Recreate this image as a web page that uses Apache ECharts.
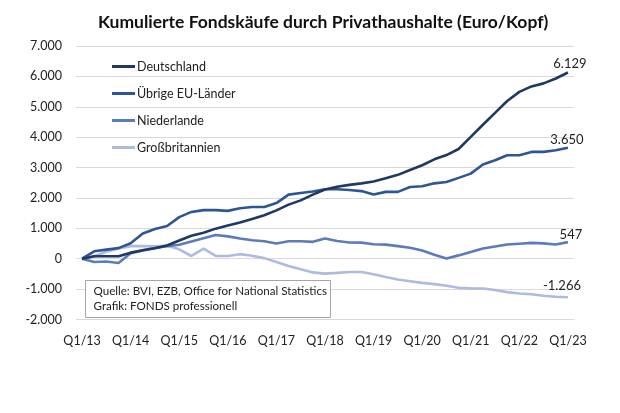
<!DOCTYPE html>
<html>
<head>
<meta charset="utf-8">
<script src="https://cdn.jsdelivr.net/npm/echarts@6/dist/echarts.min.js"></script>
<style>
html,body{margin:0;padding:0;background:#fff;}
#chart{width:620px;height:413px;}
</style>
</head>
<body>
<div id="chart"></div>
<script>
var quarters = [
  "Q1/13","Q2/13","Q3/13","Q4/13",
  "Q1/14","Q2/14","Q3/14","Q4/14",
  "Q1/15","Q2/15","Q3/15","Q4/15",
  "Q1/16","Q2/16","Q3/16","Q4/16",
  "Q1/17","Q2/17","Q3/17","Q4/17",
  "Q1/18","Q2/18","Q3/18","Q4/18",
  "Q1/19","Q2/19","Q3/19","Q4/19",
  "Q1/20","Q2/20","Q3/20","Q4/20",
  "Q1/21","Q2/21","Q3/21","Q4/21",
  "Q1/22","Q2/22","Q3/22","Q4/22",
  "Q1/23"
];
var seriesNames = ["Deutschland", "Übrige EU-Länder", "Niederlande", "Großbritannien"];
var deutschland = [0,80,80,80,200,280,345,435,600,755,855,990,1090,1190,1310,1430,1590,1780,1920,2110,2280,2370,2430,2480,2540,2650,2760,2920,3075,3270,3410,3610,4010,4410,4800,5190,5490,5670,5770,5930,6129];
var uebrigeEU = [0,245,300,350,510,830,980,1075,1370,1540,1600,1600,1575,1660,1700,1700,1830,2110,2165,2210,2285,2285,2260,2225,2110,2200,2200,2360,2385,2480,2525,2660,2800,3100,3240,3405,3405,3515,3515,3570,3650];
var niederlande = [0,-110,-90,-140,180,275,355,415,460,565,670,780,735,665,610,575,500,575,575,555,665,585,535,530,475,465,415,360,270,130,5,110,225,335,405,470,495,520,505,470,547];
var grossbritannien = [0,80,230,340,415,415,405,430,310,90,330,90,90,150,100,20,-110,-240,-350,-450,-490,-465,-435,-435,-510,-600,-685,-740,-795,-835,-890,-955,-975,-980,-1030,-1100,-1145,-1170,-1220,-1250,-1266];
var yTicks = {min: -2000, max: 7000, interval: 1000};
var sourceLines = ["Quelle: BVI, EZB, Office for National Statistics", "Grafik: FONDS professionell"];
var titleText = "Kumulierte Fondskäufe durch Privathaushalte (Euro/Kopf)";

var colors = ["#1f3864", "#2f5597", "#5b7bbd", "#adbbdf"];
var FONT = "Lato";

function fmt(v) {
  var s = Math.abs(v).toString().replace(/\B(?=(\d{3})+(?!\d))/g, ".");
  return (v < 0 ? "-" : "") + s;
}

var allData = [deutschland, uebrigeEU, niederlande, grossbritannien];
var offsets = [[2, 3], [-1, 4], [3, 4], [-6, 0]];

var chart = echarts.init(document.getElementById("chart"), null, {renderer: "canvas"});
chart.setOption({
  backgroundColor: "#fff",
  animation: false,
  color: colors,
  title: {
    text: titleText,
    left: 93,
    top: 8,
    textStyle: {fontFamily: FONT, fontSize: 17.5, fontWeight: "bold", color: "#111"}
  },
  legend: {
    orient: "vertical",
    left: 112,
    top: 59,
    padding: 0,
    itemWidth: 23,
    itemHeight: 3,
    itemGap: 12,
    icon: "rect",
    data: seriesNames,
    textStyle: {fontFamily: FONT, fontSize: 12.5, color: "#222", lineHeight: 15, padding: [0, 0, 0, -3]}
  },
  grid: {left: 76, right: 46, top: 46, bottom: 93.5, containLabel: false},
  xAxis: {
    type: "category",
    data: quarters,
    boundaryGap: true,
    axisLine: {show: false},
    axisTick: {show: false},
    axisLabel: {interval: 3, margin: 15, fontFamily: FONT, fontSize: 12.5, color: "#222"}
  },
  yAxis: {
    type: "value",
    min: yTicks.min,
    max: yTicks.max,
    interval: yTicks.interval,
    axisLine: {show: false},
    axisTick: {show: false},
    splitLine: {lineStyle: {color: "#d9d9d9", width: 1}},
    axisLabel: {margin: 14, fontFamily: FONT, fontSize: 12.5, color: "#222", formatter: fmt}
  },
  series: allData.map(function (d, k) {
    return {
      name: seriesNames[k],
      type: "line",
      data: d.map(function (v, i) {
        if (i === d.length - 1) {
          return {
            value: v,
            label: {
              show: true, position: "top", distance: 5, offset: offsets[k],
              formatter: function (p) { return fmt(p.value); },
              fontFamily: FONT, fontSize: 13, color: "#222"
            }
          };
        }
        return v;
      }),
      symbol: "circle",
      symbolSize: 0,
      showSymbol: true,
      lineStyle: {width: 2.6, color: colors[k]},
      itemStyle: {color: colors[k]},
      z: 10 - k
    };
  }),
  graphic: [{
    type: "group",
    left: 85,
    top: 280,
    z: 100,
    children: [
      {type: "rect", z: 100, shape: {x: 0, y: 0, width: 245, height: 37}, style: {fill: "#fff", stroke: "#a6a6a6", lineWidth: 1}},
      {type: "text", z: 101, left: 8, top: 5, style: {text: sourceLines[0], fontFamily: FONT, fontSize: 11.6, fill: "#222"}},
      {type: "text", z: 101, left: 8, top: 20, style: {text: sourceLines[1], fontFamily: FONT, fontSize: 11.6, fill: "#222"}}
    ]
  }]
});
</script>
</body>
</html>
